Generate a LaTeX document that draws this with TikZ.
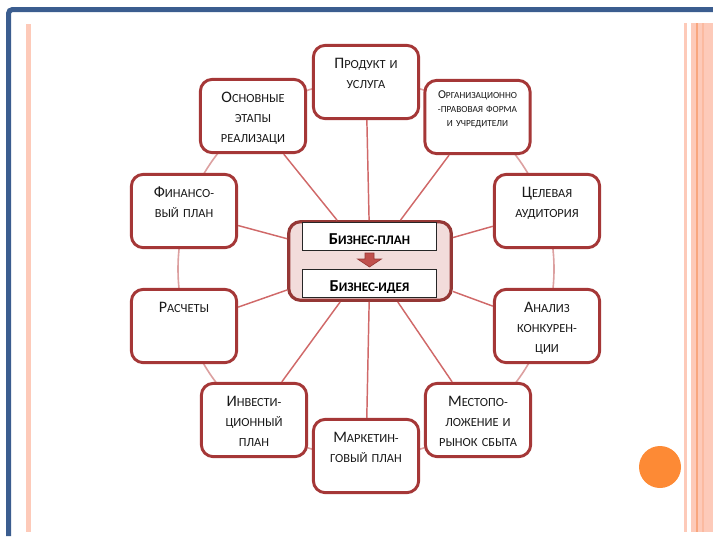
\documentclass[tikz,border=0pt]{standalone}
\usepackage{fontspec}
\setmainfont{Carlito}
\usetikzlibrary{calc,shadows}

\definecolor{frameblue}{RGB}{59,93,143}
\definecolor{stripe}{RGB}{253,202,185}
\definecolor{stripemid}{RGB}{251,186,160}
\definecolor{stripedark}{RGB}{249,166,126}
\definecolor{dotorange}{RGB}{253,138,53}
\definecolor{boxred}{RGB}{165,55,55}
\definecolor{spokered}{RGB}{208,105,105}
\definecolor{ringred}{RGB}{220,160,160}
\definecolor{corepink}{RGB}{242,220,219}
\definecolor{corered}{RGB}{149,55,53}
\definecolor{arrowred}{RGB}{192,80,77}

\newcommand\capl[1]{{\fontsize{12}{15}\selectfont #1}}
\newcommand\capls[1]{{\fontsize{9}{10.5}\selectfont #1}}
\newcommand\caplb[1]{{\fontsize{12.5}{13}\selectfont #1}}

\tikzset{
  item/.style={draw=boxred, line width=2.2pt, rounded corners=9pt, fill=white,
    minimum width=79pt, minimum height=55pt, inner sep=0pt,
    drop shadow={opacity=0.15, shadow xshift=0.8pt, shadow yshift=-0.8pt}},
  lab/.style={anchor=base, yshift=-18.75pt, align=center, text width=80pt,
    inner sep=0pt, font=\fontsize{9.3}{15}\selectfont, text=black!90},
  labsm/.style={anchor=base, yshift=-15pt, align=center, text width=80pt,
    inner sep=0pt, font=\fontsize{7}{10.5}\selectfont, text=black!90},
  core/.style={draw=corered, line width=2.4pt, rounded corners=9pt, fill=corepink,
    minimum width=122pt, minimum height=59pt},
  stage/.style={draw=black!85, line width=0.6pt, fill=white, minimum width=101pt,
    minimum height=21pt, inner sep=0pt, text height=12pt, text depth=0pt,
    font=\bfseries\fontsize{9.8}{13}\selectfont},
  spoke/.style={draw=spokered, line width=1.1pt},
}

\begin{document}
\begin{tikzpicture}[x=0.75pt,y=-0.75pt]

\useasboundingbox (0,0) rectangle (713,536);

\fill [stripe] (26,24) rectangle (31,532);
\fill [stripe] (684,23) rectangle (687,532);
\fill [stripe] (691,23) rectangle (713,532);
\fill [stripedark] (696,23) rectangle (698,532);
\fill [stripemid] (702,23) rectangle (704,532);
\draw [frameblue, line width=3.75pt, rounded corners=3pt] (8.5,536) -- (8.5,9.5) -- (713,9.5);
\fill [dotorange] (660,467) circle (21);

\coordinate (ring) at (366,269);
\draw [ringred, line width=1.2pt] (ring) circle (188);

\node [item, label={[lab]north:\capl{П}РОДУКТ И\\УСЛУГА}] (prod) at (366,82) {};
\node [item, label={[labsm]north:\capls{О}РГАНИЗАЦИОННО\\-ПРАВОВАЯ ФОРМА\\И УЧРЕДИТЕЛИ}] (org) at (477.5,117) {};
\node [item, label={[lab]north:\capl{Ц}ЕЛЕВАЯ\\АУДИТОРИЯ}] (aud) at (547,211) {};
\node [item, label={[lab]north:\capl{А}НАЛИЗ\\КОНКУРЕН-\\ЦИИ}] (konk) at (547,326) {};
\node [item, label={[lab]north:\capl{М}ЕСТОПО-\\ЛОЖЕНИЕ И\\РЫНОК СБЫТА}] (mesto) at (478,420) {};
\node [item, label={[lab]north:\capl{М}АРКЕТИН-\\ГОВЫЙ ПЛАН}] (mark) at (366,456) {};
\node [item, label={[lab]north:\capl{И}НВЕСТИ-\\ЦИОННЫЙ\\ПЛАН}] (invest) at (254,420) {};
\node [item, label={[lab]north:\capl{Р}АСЧЕТЫ}] (rasch) at (184,326) {};
\node [item, label={[lab]north:\capl{Ф}ИНАНСО-\\ВЫЙ ПЛАН}] (fin) at (184,211) {};
\node [item, label={[lab]north:\capl{О}СНОВНЫЕ\\ЭТАПЫ\\РЕАЛИЗАЦИ}] (etapy) at (253,116) {};

\node [core] (cbox) at (370,261) {};
\node [stage] (plan) at (369.5,236) {\caplb{Б}ИЗНЕС-ПЛАН};
\node [stage] (idea) at (369.5,283) {\caplb{Б}ИЗНЕС-ИДЕЯ};

\coordinate (arr) at ($(plan.south)!0.5!(idea.north)$);
\filldraw [fill=arrowred, draw=corered, line width=0.5pt]
    ([shift={(-4.5,-6.5)}]arr) -- ([shift={(4.5,-6.5)}]arr)
    -- ([shift={(4.5,-0.5)}]arr) -- ([shift={(12,-0.5)}]arr)
    -- ([shift={(0,7.5)}]arr) -- ([shift={(-12,-0.5)}]arr)
    -- ([shift={(-4.5,-0.5)}]arr) -- cycle;

\path [spoke]
    (cbox) -- (prod)
    (cbox) -- (org)
    (cbox) -- (aud)
    (cbox) -- (konk)
    (cbox) -- (mesto)
    (cbox) -- (mark)
    (cbox) -- (invest)
    (cbox) -- (rasch)
    (cbox) -- (fin)
    (cbox) -- (etapy)
;

\end{tikzpicture}
\end{document}
